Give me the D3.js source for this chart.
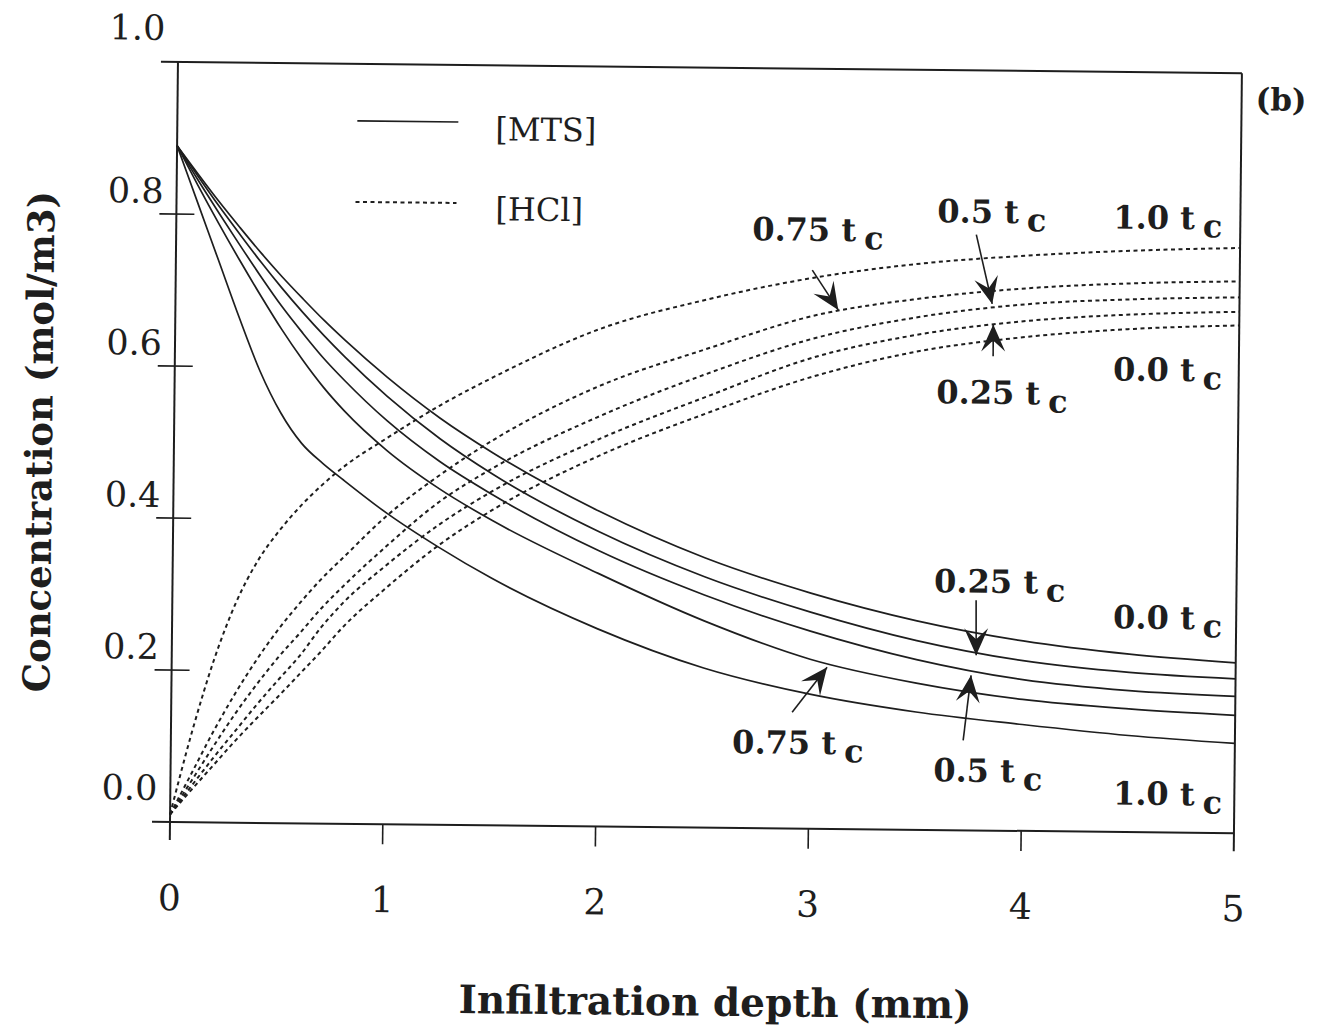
<!DOCTYPE html>
<html><head><meta charset="utf-8">
<script src="https://cdn.jsdelivr.net/npm/d3@7"></script>
<style>body{margin:0;background:#fff}</style>
</head><body>
<svg id="c" width="1323" height="1028"></svg>
<script>
// ---------- data ----------
const depth = [0,0.1,0.2,0.3,0.4,0.5,0.6,0.7,0.8,1.0,1.25,1.5,2.0,2.5,3.0,3.5,4.0,4.5,5.0];

const mts_t000 = [0.890,0.853,0.817,0.783,0.750,0.719,0.690,0.662,0.636,0.588,0.535,0.490,0.415,0.355,0.310,0.275,0.250,0.234,0.224];
const mts_t025 = [0.890,0.850,0.811,0.774,0.738,0.704,0.672,0.642,0.614,0.563,0.508,0.462,0.388,0.330,0.285,0.249,0.224,0.210,0.203];
const mts_t050 = [0.890,0.845,0.802,0.760,0.719,0.680,0.645,0.612,0.583,0.531,0.478,0.435,0.363,0.306,0.260,0.224,0.199,0.186,0.180];
const mts_t075 = [0.890,0.838,0.788,0.740,0.694,0.650,0.610,0.574,0.543,0.492,0.442,0.401,0.333,0.272,0.223,0.193,0.173,0.162,0.155];
const mts_t100 = [0.890,0.815,0.740,0.665,0.595,0.540,0.500,0.474,0.452,0.410,0.365,0.325,0.260,0.210,0.177,0.155,0.140,0.127,0.118];

const hcl_t100 = [0.01,0.12,0.215,0.29,0.345,0.385,0.418,0.446,0.47,0.508,0.552,0.59,0.655,0.695,0.725,0.745,0.757,0.765,0.770];
const hcl_t075 = [0.01,0.065,0.12,0.17,0.215,0.255,0.29,0.322,0.35,0.405,0.46,0.507,0.58,0.63,0.675,0.699,0.714,0.722,0.726];
const hcl_t050 = [0.01,0.055,0.10,0.143,0.182,0.218,0.25,0.283,0.312,0.365,0.425,0.47,0.54,0.597,0.645,0.675,0.693,0.701,0.705];
const hcl_t025 = [0.01,0.048,0.085,0.12,0.155,0.188,0.22,0.258,0.29,0.34,0.395,0.44,0.51,0.567,0.62,0.652,0.671,0.681,0.686];
const hcl_t000 = [0.01,0.043,0.075,0.107,0.137,0.166,0.196,0.226,0.258,0.31,0.368,0.415,0.488,0.545,0.595,0.63,0.65,0.662,0.668];

const xTicks = [0,1,2,3,4,5];
const xTickLabels = ["0","1","2","3","4","5"];
const yTicks = [0,0.2,0.4,0.6,0.8,1.0];
const yTickLabels = ["0.0","0.2","0.4","0.6","0.8","1.0"];

const legendLabels = ["[MTS]","[HCl]"];
const xTitle = "Infiltration depth (mm)";
const yTitle = "Concentration (mol/m3)";
const panelTag = "(b)";

// annotation labels: text, anchor (depth, value)
const annText  = ["0.75","0.5","1.0","0.25","0.0","0.25","0.0","0.75","0.5","1.0"];
const annAt    = [[2.707,0.7735],[3.576,0.7996],[4.403,0.794],[3.58,0.5615],[4.41,0.594],
                  [3.579,0.3128],[4.422,0.2678],[2.638,0.0983],[3.584,0.064],[4.43,0.036]];
// arrows: from (depth,value) to tip (depth,value)
const arrows   = [[2.991,0.7349,3.115,0.683],[3.76,0.784,3.838,0.693],[3.845,0.624,3.844,0.666],
                  [3.777,0.3028,3.78,0.2304],[2.918,0.153,3.08,0.2126],[3.723,0.1184,3.757,0.204]];

// ---------- drawing ----------
const W = 1323, H = 1028;
const ink = "#1e1e1e";
const serif = "'DejaVu Serif','Liberation Serif',serif";
const svg = d3.select("#c");
svg.append("rect").attr("width", W).attr("height", H).attr("fill", "#fff");
const g = svg.append("g").attr("transform", "rotate(0.6,170,822)");

const x = d3.scaleLinear().domain([0, 5]).range([170, 1234]);
const y = d3.scaleLinear().domain([0, 1]).range([822, 62]);

// frame
const frame = [
  [x(0) - 17, y(1), x(5), y(1)],
  [x(0) - 18, y(0), x(5), y(0)],
  [x(0), y(1), x(0), y(0) + 18],
  [x(5), y(1), x(5), y(0) + 18]
];
g.selectAll("line.frame").data(frame).join("line").attr("class", "frame")
  .attr("x1", d => d[0]).attr("y1", d => d[1]).attr("x2", d => d[2]).attr("y2", d => d[3])
  .attr("stroke", ink).attr("stroke-width", 2);

// x ticks
g.selectAll("line.xt").data(xTicks.filter(v => v > 0 && v < 5)).join("line").attr("class", "xt")
  .attr("x1", d => x(d)).attr("x2", d => x(d)).attr("y1", y(0)).attr("y2", y(0) + 20)
  .attr("stroke", ink).attr("stroke-width", 1.6);
// y ticks (crossing)
g.selectAll("line.yt").data(yTicks.filter(v => v > 0 && v < 1)).join("line").attr("class", "yt")
  .attr("x1", x(0) - 17).attr("x2", x(0) + 18).attr("y1", d => y(d)).attr("y2", d => y(d))
  .attr("stroke", ink).attr("stroke-width", 1.6);

// tick labels
g.selectAll("text.xl").data(xTicks).join("text").attr("class", "xl")
  .attr("x", d => x(d)).attr("y", y(0) + 88).attr("text-anchor", "middle")
  .attr("font-family", serif).attr("font-size", 36).attr("fill", ink)
  .text((d, i) => xTickLabels[i]);
g.selectAll("text.yl").data(yTicks).join("text").attr("class", "yl")
  .attr("x", x(0) - 13).attr("y", d => y(d) - ((d === 0 || d === 1) ? 22 : 11))
  .attr("text-anchor", "end")
  .attr("font-family", serif).attr("font-size", 35).attr("fill", ink)
  .text((d, i) => yTickLabels[i]);

// axis titles
g.append("text").attr("x", 717).attr("y", 1010).attr("text-anchor", "middle")
  .attr("font-family", serif).attr("font-weight", "bold").attr("font-size", 39).attr("fill", ink)
  .text(xTitle);
g.append("text").attr("transform", "translate(48,443) rotate(-90)").attr("text-anchor", "middle")
  .attr("font-family", serif).attr("font-weight", "bold").attr("font-size", 37).attr("fill", ink)
  .text(yTitle);
g.append("text").attr("x", 1248).attr("y", 99)
  .attr("font-family", serif).attr("font-weight", "bold").attr("font-size", 31).attr("fill", ink)
  .text(panelTag);

// curves
const line = d3.line().x((d, i) => x(depth[i])).y(d => y(d)).curve(d3.curveMonotoneX);
const mtsSeries = [mts_t000, mts_t025, mts_t050, mts_t075, mts_t100];
const hclSeries = [hcl_t000, hcl_t025, hcl_t050, hcl_t075, hcl_t100];
g.selectAll("path.mts").data(mtsSeries).join("path").attr("class", "mts")
  .attr("d", line).attr("fill", "none").attr("stroke", ink).attr("stroke-width", 1.7);
g.selectAll("path.hcl").data(hclSeries).join("path").attr("class", "hcl")
  .attr("d", line).attr("fill", "none").attr("stroke", ink).attr("stroke-width", 2)
  .attr("stroke-dasharray", "4,3.5");

// legend
g.append("line").attr("x1", 350).attr("x2", 451).attr("y1", 119).attr("y2", 119)
  .attr("stroke", ink).attr("stroke-width", 1.7);
g.append("line").attr("x1", 349).attr("x2", 450).attr("y1", 200).attr("y2", 200)
  .attr("stroke", ink).attr("stroke-width", 2).attr("stroke-dasharray", "4,3.5");
g.append("text").attr("x", 488).attr("y", 137).attr("font-family", serif).attr("font-size", 32)
  .attr("fill", ink).text(legendLabels[0]);
g.append("text").attr("x", 489).attr("y", 217).attr("font-family", serif).attr("font-size", 32)
  .attr("fill", ink).text(legendLabels[1]);

// annotation labels
const ann = g.selectAll("text.ann").data(annText).join("text").attr("class", "ann")
  .attr("x", (d, i) => x(annAt[i][0])).attr("y", (d, i) => y(annAt[i][1]))
  .attr("font-family", serif).attr("font-weight", "bold").attr("font-size", 32).attr("fill", ink);
ann.append("tspan").text(d => d + " t");
ann.append("tspan").attr("dx", 8).attr("dy", 8).text("c");

// arrows
const ag = g.selectAll("g.arrow").data(arrows).join("g").attr("class", "arrow");
ag.append("line")
  .attr("x1", d => x(d[0])).attr("y1", d => y(d[1]))
  .attr("x2", d => x(d[2])).attr("y2", d => y(d[3]))
  .attr("stroke", ink).attr("stroke-width", 1.6);
ag.append("path")
  .attr("d", "M0,0 L-27,-12 L-16,0 L-27,12 Z")
  .attr("fill", ink)
  .attr("transform", d => {
    const x1 = x(d[0]), y1 = y(d[1]), x2 = x(d[2]), y2 = y(d[3]);
    const a = Math.atan2(y2 - y1, x2 - x1) * 180 / Math.PI;
    return `translate(${x2},${y2}) rotate(${a})`;
  });
</script>
</body></html>
